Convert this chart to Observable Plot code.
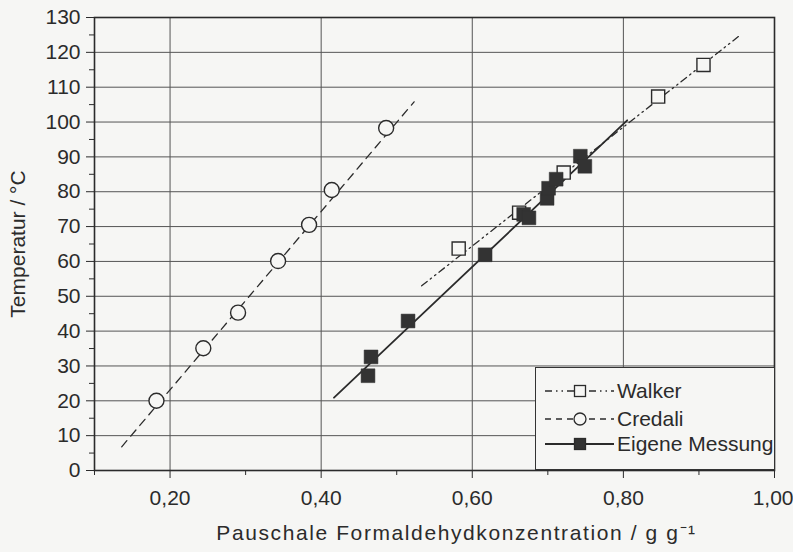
<!DOCTYPE html>
<html>
<head>
<meta charset="utf-8">
<script src="https://cdn.jsdelivr.net/npm/d3@7"></script>
<script src="https://cdn.jsdelivr.net/npm/@observablehq/plot@0.6"></script>
<style>
  html, body { margin: 0; padding: 0; background: #f6f6f4; }
  #wrap { position: relative; width: 793px; height: 552px; font-family: "Liberation Sans", Arial, sans-serif; }
  #wrap > svg { overflow: visible; }
  #legend { position: absolute; left: 535px; top: 367px; width: 240px; height: 103px;
            box-sizing: border-box; border: 1.5px solid #333; background: #f6f6f4; }
</style>
</head>
<body>
<div id="wrap"><div id="legend"></div></div>
<script>
// ---- data ----
const walkerX = [0.582, 0.662, 0.721, 0.846, 0.906];
const walkerY = [63.7, 74.0, 85.5, 107.3, 116.4];
const walkerLineX = [0.533, 0.955];
const walkerLineY = [53.0, 125.0];

const credaliX = [0.182, 0.244, 0.290, 0.343, 0.384, 0.414, 0.486];
const credaliY = [20.0, 35.1, 45.3, 60.1, 70.5, 80.5, 98.3];
const credaliLineX = [0.136, 0.523];
const credaliLineY = [6.8, 105.8];

const eigeneX = [0.462, 0.466, 0.515, 0.617, 0.668, 0.675, 0.699, 0.701, 0.711, 0.743, 0.749];
const eigeneY = [27.2, 32.6, 42.9, 61.9, 73.5, 72.5, 78.1, 81.0, 83.6, 90.2, 87.3];
const eigeneLineX = [0.417, 0.805];
const eigeneLineY = [20.9, 100.5];

const xMajorTicks = [0.2, 0.4, 0.6, 0.8];
const xEndTick = [1.0];
const xMinorTicks = [0.1, 0.3, 0.5, 0.7, 0.9];
const xGrid = [0.2, 0.4, 0.6, 0.8];
const yMajorTicks = [0,10,20,30,40,50,60,70,80,90,100,110,120,130];
const yMinorTicks = [5,15,25,35,45,55,65,75,85,95,105,115,125];
const yGrid = [10,20,30,40,50,60,70,80,90,100,110,120];

const seriesNames = ["Walker", "Credali", "Eigene Messung"];
const xLabel = "Pauschale Formaldehydkonzentration / g g\u207B\u00B9";
const yLabel = "Temperatur / °C";

// ---- build tables ----
const zip = (xs, ys) => xs.map((x, i) => ({x, y: ys[i]}));
const walker = zip(walkerX, walkerY), walkerLine = zip(walkerLineX, walkerLineY);
const credali = zip(credaliX, credaliY), credaliLine = zip(credaliLineX, credaliLineY);
const eigene = zip(eigeneX, eigeneY), eigeneLine = zip(eigeneLineX, eigeneLineY);

const ink = "#2b2b2b";
const bg = "#f6f6f4";
const fmt = d => d3.format(".2f")(d).replace(".", ",");
const dashWalker = "7,4,1.5,4,1.5,4";
const dashCredali = "8,6";

const chart = Plot.plot({
  width: 793,
  height: 552,
  marginLeft: 94,
  marginRight: 19,
  marginTop: 17,
  marginBottom: 82,
  style: {fontFamily: "Liberation Sans, Arial, sans-serif", fontSize: "21px", color: ink, background: "transparent"},
  x: {domain: [0.1, 1.0]},
  y: {domain: [0, 130]},
  marks: [
    Plot.gridX(xGrid, {stroke: "#555", strokeOpacity: 1, strokeWidth: 1}),
    Plot.gridY(yGrid, {stroke: "#555", strokeOpacity: 1, strokeWidth: 1}),
    Plot.axisX(xMajorTicks, {tickSize: 8, tickPadding: 12, tickFormat: fmt, label: null, fontSize: 21, stroke: ink}),
    Plot.axisX(xEndTick, {tickSize: 8, tickPadding: 12, tickFormat: fmt, label: null, fontSize: 21, stroke: ink}),
    Plot.axisX(xMinorTicks, {tickSize: 5, tickFormat: () => "", label: null, stroke: ink}),
    Plot.axisY(yMajorTicks, {tickSize: 8, tickPadding: 6, label: null, fontSize: 21, stroke: ink}),
    Plot.axisY(yMinorTicks, {tickSize: 5, tickFormat: () => "", label: null, stroke: ink}),
    Plot.frame({stroke: ink, strokeWidth: 1.6}),
    Plot.line(credaliLine, {x: "x", y: "y", stroke: ink, strokeWidth: 1.3, strokeDasharray: dashCredali}),
    Plot.line(walkerLine, {x: "x", y: "y", stroke: ink, strokeWidth: 1.3, strokeDasharray: dashWalker}),
    Plot.line(eigeneLine, {x: "x", y: "y", stroke: ink, strokeWidth: 1.8}),
    Plot.dot(credali, {x: "x", y: "y", r: 7.5, fill: bg, stroke: ink, strokeWidth: 1.4}),
    Plot.dot(walker, {x: "x", y: "y", symbol: "square", r: 7.4, fill: bg, stroke: ink, strokeWidth: 1.4}),
    Plot.dot(eigene, {x: "x", y: "y", symbol: "square", r: 7.8, fill: "#333", stroke: "#333", strokeWidth: 0.5}),
    Plot.text([xLabel], {frameAnchor: "bottom", dy: 69, dx: 22, fontSize: 21, fill: ink, textAnchor: "middle"}),
    Plot.text([yLabel], {frameAnchor: "left", dx: -76, rotate: -90, fontSize: 21, fill: ink, textAnchor: "middle"})
  ]
});
document.getElementById("wrap").prepend(chart);

// widen the x-axis title like the reference lettering
d3.select(chart).selectAll("text").filter(function() { return this.textContent === xLabel; })
  .attr("letter-spacing", "1.6px");
// keep the last tick label "1,00" inside the window, as in the reference
d3.select(chart).selectAll("text").filter(function() { return this.textContent === fmt(xEndTick[0]); })
  .attr("text-anchor", "end").attr("dx", "19");

// ---- legend ----
const lsvg = d3.select("#legend").append("svg").attr("width", 237).attr("height", 100)
  .style("position", "absolute").style("left", 0).style("top", 0);
const rows = [
  {name: seriesNames[0], dash: dashWalker, sym: "sq-open", y: 23},
  {name: seriesNames[1], dash: "6,5", sym: "circle", y: 51},
  {name: seriesNames[2], dash: null, sym: "sq-fill", y: 76}
];
rows.forEach(r => {
  const g = lsvg.append("g");
  g.append("line").attr("x1", 9).attr("x2", 78).attr("y1", r.y).attr("y2", r.y)
    .attr("stroke", ink).attr("stroke-width", r.dash ? 1.3 : 1.8)
    .attr("stroke-dasharray", r.dash);
  if (r.sym === "circle") {
    g.append("circle").attr("cx", 44).attr("cy", r.y).attr("r", 6)
      .attr("fill", bg).attr("stroke", ink).attr("stroke-width", 1.3);
  } else {
    g.append("rect").attr("x", 38.5).attr("y", r.y - 5.5).attr("width", 11).attr("height", 11)
      .attr("fill", r.sym === "sq-fill" ? "#333" : bg).attr("stroke", ink).attr("stroke-width", 1.3);
  }
  g.append("text").attr("x", 81).attr("y", r.y).attr("dy", "0.35em")
    .attr("font-family", "Liberation Sans, Arial, sans-serif").attr("font-size", 21)
    .attr("fill", ink).text(r.name);
});
</script>
</body>
</html>
